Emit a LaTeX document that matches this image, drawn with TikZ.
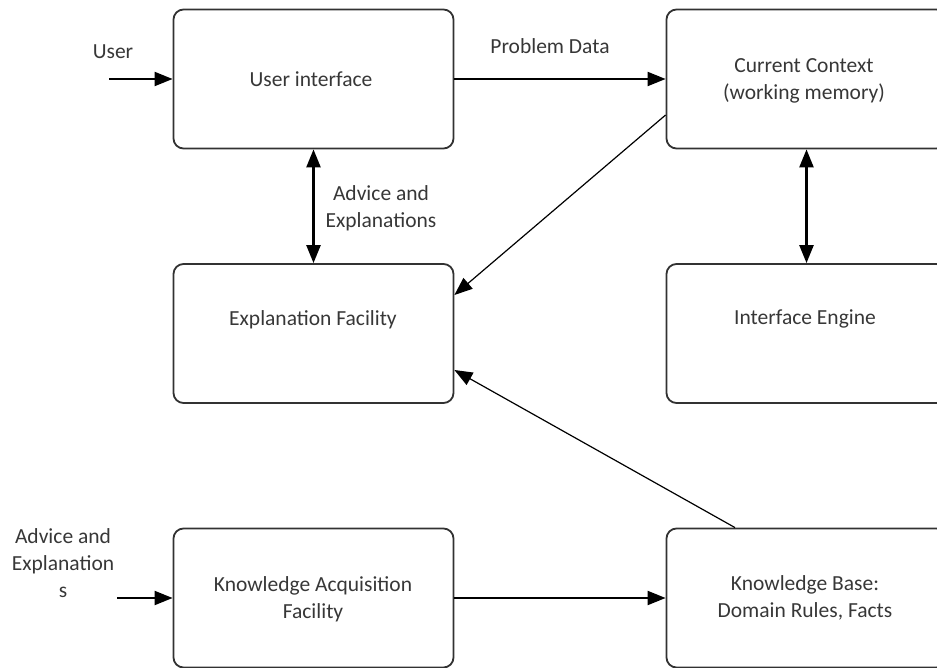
\documentclass[tikz,border=0pt]{standalone}
\usepackage{fontspec}
\setmainfont{Carlito}
\usetikzlibrary{arrows.meta,calc}
\definecolor{txt}{RGB}{55,55,55}
\definecolor{edge}{RGB}{50,50,50}
\begin{document}
\begin{tikzpicture}[x=1pt,y=-1pt,
  box/.style={draw=edge,line width=1.8pt,rounded corners=10pt,
    minimum width=280pt,minimum height=139pt,inner sep=0pt},
  lbl/.style={font=\fontsize{21.5}{27}\selectfont,text=txt,inner sep=0pt,align=center},
  tip/.style={-{Triangle[length=18pt,width=14pt]}},
  flow/.style={tip,line width=2pt},
  both/.style={line width=2.4pt,{Triangle[length=18pt,width=14pt]}-{Triangle[length=18pt,width=14pt]}},
  slim/.style={tip,line width=1.2pt}]
\useasboundingbox (0,0) rectangle (937,668);
\clip (0,0) rectangle (937,668);

% boxes
\node[box] (ui)  at (313.5,79)    {};
\node[box] (cc)  at (806.5,79)    {};
\node[box] (ef)  at (313.5,333.5) {};
\node[box] (ie)  at (806.5,333.5) {};
\node[box] (kaf) at (313.5,598)   {};
\node[box] (kb)  at (806.5,598)   {};

% box texts (base anchor sits on the last line)
\node[lbl,anchor=base] (tui)  at (311,87)  {User interface};
\node[lbl,anchor=base] (tcc)  at (804,100) {Current Context\\(working memory)};
\node[lbl,anchor=base] (tef)  at (313,326) {Explanation Facility};
\node[lbl,anchor=base] (tie)  at (805,325) {Interface Engine};
\node[lbl,anchor=base] (tkaf) at (313,618) {Knowledge Acquisition\\Facility};
\node[lbl,anchor=base] (tkb)  at (805,617) {Knowledge Base:\\Domain Rules, Facts};

% free ends of the incoming arrows
\coordinate (uin) at (109,79);
\coordinate (ain) at (117,598);

% connectors
\draw[flow] (uin) -- (ui.west);
\draw[flow] (ui.east) -- (cc.west);
\draw[both] (ui.south) -- (ef.north);
\draw[both] (cc.south) -- (ie.north);
\draw[slim] ($(cc.west)+(0,36)$) -- ($(ef.east)+(0,-38.5)$);
\draw[slim] ($(kb.north)+(-71.5,0)$) -- ($(ef.east)+(0,36.5)$);
\draw[flow] (ain) -- (kaf.west);
\draw[flow] (kaf.east) -- (kb.west);

% connector labels
\node[lbl,anchor=base] (luser) at (113,59)  {User};
\node[lbl,anchor=base] (lpd)   at (550,54)  {Problem Data};
\node[lbl,anchor=base] (lae)   at (381,228) {Advice and\\Explanations};
\node[lbl,anchor=base] (lin)   at (63,597)  {Advice and\\Explanation\\s};
\end{tikzpicture}
\end{document}
